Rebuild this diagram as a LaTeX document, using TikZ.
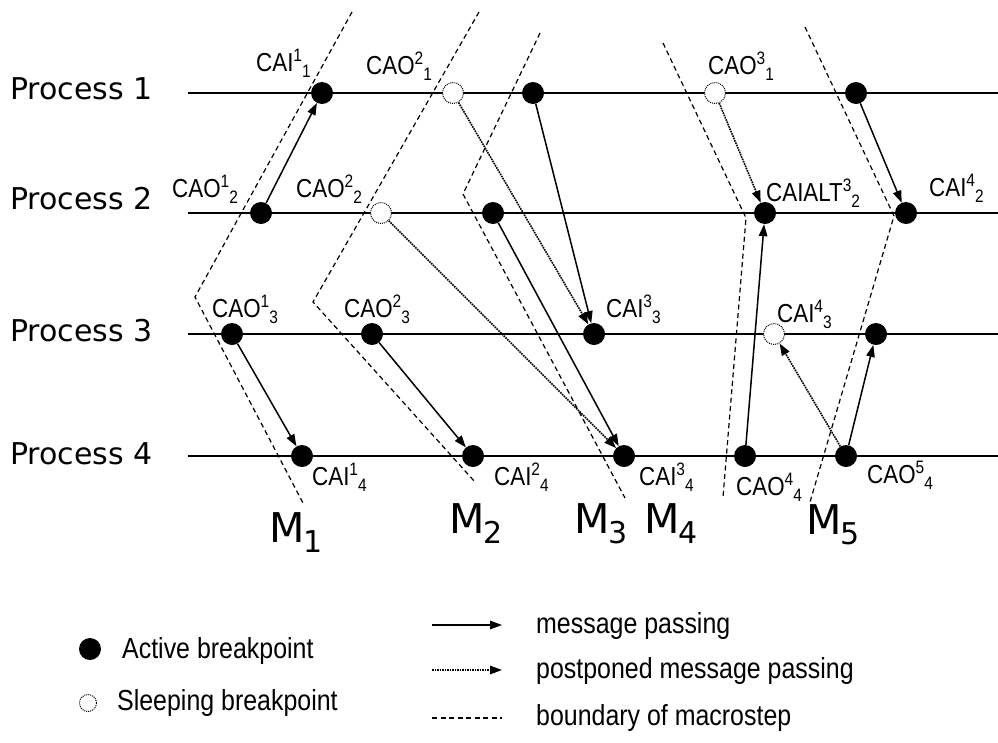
\documentclass[tikz,border=0pt]{standalone}
\usepackage{fontspec}
\setmainfont{Liberation Sans}
\newfontfamily\procfont{DejaVu Sans}
\newfontfamily\narrowfont[FakeStretch=0.86]{Liberation Sans}
\usetikzlibrary{arrows.meta}

% breakpoint label: name, superscript, subscript (set one after the other)
\newcommand\cplabel[3]{\narrowfont\fontsize{26}{26}\selectfont #1%
  \raisebox{10pt}{\fontsize{18}{18}\selectfont #2}%
  \raisebox{-6pt}{\fontsize{18}{18}\selectfont #3}}
% macrostep label M_i
\newcommand\macrolabel[1]{\procfont\fontsize{41}{41}\selectfont M\kern-1pt%
  \raisebox{-10pt}{\fontsize{30}{30}\selectfont #1}}

\tikzset{
  active/.style={circle, fill=black, minimum size=22pt, inner sep=0pt},
  sleeping/.style={circle, draw=black, fill=white, line width=1pt,
    dash pattern=on 1pt off 1pt, minimum size=21pt, inner sep=0pt},
  procline/.style={line width=1.5pt},
  msg/.style={line width=1.5pt, -{Triangle[length=12pt,width=8.5pt]}},
  postponed/.style={line width=1.6pt, dash pattern=on 1.6pt off 0.9pt,
    -{Triangle[length=12pt,width=8.5pt]}},
  boundary/.style={line width=1.2pt, dash pattern=on 5pt off 3.5pt},
  lbl/.style={anchor=base west, inner sep=0pt},
  proclbl/.style={anchor=base west, inner sep=0pt,
    font=\procfont\fontsize{30}{30}\selectfont},
  legendtext/.style={anchor=base west, inner sep=0pt,
    font=\narrowfont\fontsize{29}{29}\selectfont},
}

\begin{document}
\begin{tikzpicture}[x=1pt,y=-1pt]
\useasboundingbox (0,0) rectangle (998,742);

% process names
\node[proclbl] (n1) at (10,99)  {Process 1};
\node[proclbl] (n2) at (10,209) {Process 2};
\node[proclbl] (n3) at (10,341) {Process 3};
\node[proclbl] (n4) at (10,464) {Process 4};

% time lines
\coordinate (p1s) at (188,93);  \coordinate (p1e) at (998,93);
\coordinate (p2s) at (188,213); \coordinate (p2e) at (998,213);
\coordinate (p3s) at (188,334); \coordinate (p3e) at (998,334);
\coordinate (p4s) at (188,456); \coordinate (p4e) at (998,456);
\draw[procline] (p1s) -- (p1e);
\draw[procline] (p2s) -- (p2e);
\draw[procline] (p3s) -- (p3e);
\draw[procline] (p4s) -- (p4e);

% macrostep boundaries
\draw[boundary] (352,12) -- (195,297) -- (303,503);
\draw[boundary] (479,12) -- (313,302) -- (475,482);
\draw[boundary] (540,33) -- (463,194) -- (625,498);
\draw[boundary] (663,43) -- (746,218) -- (723,497);
\draw[boundary] (805,27) -- (894,216) -- (810,502);

% macrostep names
\node[lbl] (m1) at (269,542) {\macrolabel{1}};
\node[lbl] (m2) at (449,533) {\macrolabel{2}};
\node[lbl] (m3) at (574,533) {\macrolabel{3}};
\node[lbl] (m4) at (644,533) {\macrolabel{4}};
\node[lbl] (m5) at (806,534) {\macrolabel{5}};

% breakpoints, process 1
\node[active]   (a11) at (322,93) {};
\node[sleeping] (s21) at (453,93) {};
\node[active]   (b1)  at (533,93) {};
\node[sleeping] (s31) at (715,93) {};
\node[active]   (c1)  at (856,93) {};
% process 2
\node[active]   (a12) at (261,213) {};
\node[sleeping] (s22) at (381,213) {};
\node[active]   (b2)  at (493,213) {};
\node[active]   (d2)  at (765,213) {};
\node[active]   (e2)  at (906,213) {};
% process 3
\node[active]   (a13) at (232,334) {};
\node[active]   (b13) at (372,334) {};
\node[active]   (c3)  at (594,334) {};
\node[sleeping] (s43) at (774,334) {};
\node[active]   (f3)  at (876,334) {};
% process 4
\node[active]   (a14) at (302,456) {};
\node[active]   (b14) at (473,456) {};
\node[active]   (c4)  at (624,456) {};
\node[active]   (d4)  at (745,456) {};
\node[active]   (f4)  at (846,456) {};

% breakpoint labels
\node[lbl] (l11) at (256,71)  {\cplabel{CAI}{1}{1}};
\node[lbl] (l21) at (366,74)  {\cplabel{CAO}{2}{1}};
\node[lbl] (l31) at (708,74)  {\cplabel{CAO}{3}{1}};
\node[lbl] (l12) at (172,197) {\cplabel{CAO}{1}{2}};
\node[lbl] (l22) at (296,197) {\cplabel{CAO}{2}{2}};
\node[lbl] (l32) at (766,201) {\cplabel{CAIALT}{3}{2}};
\node[lbl] (l42) at (929,196) {\cplabel{CAI}{4}{2}};
\node[lbl] (l13) at (212,317) {\cplabel{CAO}{1}{3}};
\node[lbl] (l23) at (344,317) {\cplabel{CAO}{2}{3}};
\node[lbl] (l33) at (606,317) {\cplabel{CAI}{3}{3}};
\node[lbl] (l43) at (777,322) {\cplabel{CAI}{4}{3}};
\node[lbl] (l14) at (312,485) {\cplabel{CAI}{1}{4}};
\node[lbl] (l24) at (494,485) {\cplabel{CAI}{2}{4}};
\node[lbl] (l34) at (639,485) {\cplabel{CAI}{3}{4}};
\node[lbl] (l44) at (736,495) {\cplabel{CAO}{4}{4}};
\node[lbl] (l54) at (867,483) {\cplabel{CAO}{5}{4}};

% messages
\draw[msg] (a12) -- (a11);
\draw[msg] (a13) -- (a14);
\draw[msg] (b13) -- (b14);
\draw[msg] (b1)  -- (c3);
\draw[msg] (b2)  -- (c4);
\draw[msg] (d4)  -- (d2);
\draw[msg] (c1)  -- (e2);
\draw[msg] (f4)  -- (f3);
% postponed messages
\draw[postponed] (s21) -- (c3);
\draw[postponed] (s22) -- (c4);
\draw[postponed] (s31) -- (d2);
\draw[postponed] (f4)  -- (s43);

% legend
\node[active] (ld1) at (90,649) {};
\node[sleeping, minimum size=17pt] (ld2) at (88,703) {};
\node[legendtext] (lt1) at (122,658) {Active breakpoint};
\node[legendtext] (lt2) at (117,710) {Sleeping breakpoint};
\coordinate (la1) at (432,625); \coordinate (lb1) at (502,625);
\coordinate (la2) at (432,670); \coordinate (lb2) at (502,670);
\coordinate (la3) at (432,718); \coordinate (lb3) at (502,718);
\draw[msg] (la1) -- (lb1);
\draw[postponed] (la2) -- (lb2);
\draw[boundary] (la3) -- (lb3);
\node[legendtext] (lt3) at (536,633) {message passing};
\node[legendtext] (lt4) at (536,678) {postponed message passing};
\node[legendtext] (lt5) at (536,725) {boundary of macrostep};
\end{tikzpicture}
\end{document}
